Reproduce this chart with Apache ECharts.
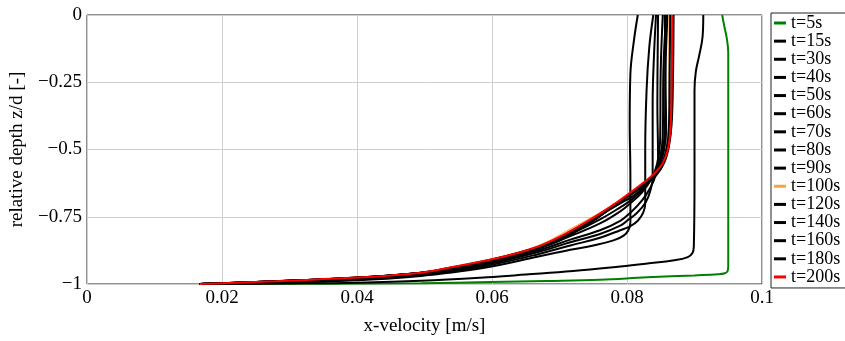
<!DOCTYPE html>
<html>
<head>
<meta charset="utf-8">
<script src="https://cdn.jsdelivr.net/npm/echarts@6/dist/echarts.min.js"></script>
<style>
  html, body { margin: 0; padding: 0; background: #fff; }
  #chart { width: 845px; height: 341px; }
</style>
</head>
<body>
<div id="chart"></div>
<script>
// velocity profiles, [x-velocity m/s, relative depth z/d]
var t5 = [[0.0941, 0], [0.0944, -0.04], [0.0948, -0.09], [0.0950, -0.14], [0.0950, -0.5], [0.0950, -0.935], [0.0949, -0.952], [0.0945, -0.96], [0.0935, -0.964], [0.0900, -0.968], [0.0830, -0.975], [0.0760, -0.984], [0.0680, -0.989], [0.0598, -0.993], [0.0495, -0.997], [0.0350, -0.999], [0.0167, -1]];
var t15 = [[0.0913, 0], [0.0912, -0.08], [0.0907, -0.15], [0.0902, -0.21], [0.0900, -0.28], [0.0900, -0.60], [0.0899, -0.86], [0.0897, -0.885], [0.0890, -0.90], [0.0870, -0.912], [0.0830, -0.924], [0.0790, -0.935], [0.0720, -0.952], [0.0650, -0.965], [0.0593, -0.975], [0.0495, -0.988], [0.0400, -0.995], [0.0300, -0.998], [0.0167, -1]];
var t30 = [[0.0816, 0], [0.0810, -0.10], [0.0805, -0.22], [0.0804, -0.40], [0.0805, -0.60], [0.0805, -0.77], [0.0802, -0.80], [0.0795, -0.82], [0.0780, -0.838], [0.0750, -0.857], [0.0716, -0.873], [0.0667, -0.899], [0.0593, -0.938], [0.0540, -0.957], [0.0495, -0.970], [0.0401, -0.986], [0.0278, -0.995], [0.0167, -1]];
var t40 = [[0.0839, 0], [0.0833, -0.12], [0.0829, -0.28], [0.0827, -0.50], [0.0827, -0.70], [0.0824, -0.735], [0.0816, -0.765], [0.0805, -0.785], [0.0790, -0.80], [0.0760, -0.828], [0.0716, -0.857], [0.0667, -0.89], [0.0593, -0.932], [0.0540, -0.953], [0.0495, -0.967], [0.0401, -0.984], [0.0278, -0.994], [0.0167, -1]];
var t50 = [[0.0843, 0], [0.0840, -0.15], [0.0838, -0.33], [0.0838, -0.60], [0.0835, -0.65], [0.0828, -0.695], [0.0815, -0.735], [0.0800, -0.765], [0.0790, -0.783], [0.0760, -0.814], [0.0716, -0.845], [0.0667, -0.882], [0.0593, -0.927], [0.0540, -0.949], [0.0495, -0.964], [0.0401, -0.982], [0.0278, -0.993], [0.0167, -1]];
var t60 = [[0.0846, 0], [0.0845, -0.33], [0.0846, -0.53], [0.0843, -0.59], [0.0835, -0.64], [0.0822, -0.69], [0.0805, -0.735], [0.0790, -0.765], [0.0760, -0.80], [0.0716, -0.835], [0.0667, -0.876], [0.0593, -0.923], [0.0540, -0.946], [0.0495, -0.962], [0.0401, -0.981], [0.0278, -0.992], [0.0167, -1]];
var t70 = [[0.0853, 0], [0.0850, -0.2], [0.0849, -0.47], [0.0845, -0.55], [0.0836, -0.61], [0.0822, -0.66], [0.0805, -0.70], [0.0790, -0.73], [0.0760, -0.775], [0.0716, -0.822], [0.0667, -0.87], [0.0593, -0.919], [0.0540, -0.944], [0.0495, -0.960], [0.0401, -0.979], [0.0278, -0.991], [0.0167, -1]];
var t80 = [[0.0858, 0], [0.0854, -0.2], [0.0853, -0.45], [0.0849, -0.53], [0.0840, -0.595], [0.0825, -0.645], [0.0805, -0.69], [0.0790, -0.715], [0.0760, -0.76], [0.0716, -0.815], [0.0667, -0.867], [0.0593, -0.917], [0.0540, -0.942], [0.0495, -0.959], [0.0401, -0.978], [0.0278, -0.991], [0.0167, -1]];
var t90 = [[0.0860, 0], [0.0857, -0.2], [0.0856, -0.43], [0.0852, -0.515], [0.0843, -0.58], [0.0828, -0.632], [0.0808, -0.675], [0.0790, -0.70], [0.0760, -0.745], [0.0716, -0.81], [0.0667, -0.865], [0.0593, -0.915], [0.0540, -0.941], [0.0495, -0.959], [0.0401, -0.977], [0.0278, -0.99], [0.0167, -1]];
var t100 = [[0.0862, 0], [0.0862, -0.2], [0.0863, -0.42], [0.0861, -0.49], [0.0855, -0.55], [0.0844, -0.595], [0.0829, -0.627], [0.0810, -0.66], [0.0784, -0.70], [0.0749, -0.75], [0.0716, -0.795], [0.0667, -0.858], [0.0593, -0.91], [0.0540, -0.936], [0.0495, -0.956], [0.0401, -0.975], [0.0278, -0.989], [0.0167, -1]];
var t120 = [[0.0868, 0], [0.0866, -0.25], [0.0865, -0.42], [0.0862, -0.49], [0.0855, -0.55], [0.0843, -0.597], [0.0826, -0.632], [0.0806, -0.668], [0.0780, -0.712], [0.0746, -0.768], [0.0705, -0.825], [0.0667, -0.866], [0.0593, -0.914], [0.0540, -0.94], [0.0495, -0.958], [0.0401, -0.976], [0.0278, -0.99], [0.0167, -1]];
var t140 = [[0.0856, 0], [0.0857, -0.25], [0.0858, -0.43], [0.0855, -0.50], [0.0848, -0.56], [0.0836, -0.605], [0.0820, -0.64], [0.0800, -0.675], [0.0775, -0.72], [0.0746, -0.772], [0.0705, -0.83], [0.0667, -0.868], [0.0593, -0.916], [0.0540, -0.941], [0.0495, -0.959], [0.0401, -0.977], [0.0278, -0.99], [0.0167, -1]];
var t160 = [[0.0864, 0], [0.0863, -0.25], [0.0862, -0.42], [0.0859, -0.49], [0.0852, -0.55], [0.0840, -0.597], [0.0823, -0.633], [0.0803, -0.668], [0.0778, -0.712], [0.0746, -0.765], [0.0705, -0.823], [0.0667, -0.865], [0.0593, -0.914], [0.0540, -0.94], [0.0495, -0.958], [0.0401, -0.976], [0.0278, -0.99], [0.0167, -1]];
var t180 = [[0.0869, 0], [0.0868, -0.25], [0.0866, -0.41], [0.0862, -0.48], [0.0855, -0.545], [0.0844, -0.59], [0.0828, -0.625], [0.0807, -0.663], [0.0781, -0.706], [0.0746, -0.762], [0.0705, -0.82], [0.0667, -0.863], [0.0593, -0.913], [0.0540, -0.939], [0.0495, -0.958], [0.0401, -0.976], [0.0278, -0.99], [0.0167, -1]];
var t200 = [[0.0867, 0], [0.0866, -0.30], [0.0864, -0.44], [0.0860, -0.505], [0.0852, -0.555], [0.0840, -0.590], [0.0825, -0.622], [0.0805, -0.660], [0.0780, -0.705], [0.0746, -0.760], [0.0705, -0.818], [0.0667, -0.862], [0.0630, -0.890], [0.0593, -0.912], [0.0540, -0.938], [0.0495, -0.958], [0.0450, -0.968], [0.0401, -0.976], [0.0340, -0.983], [0.0278, -0.990], [0.0220, -0.9955], [0.0167, -1]];

var names = ['t=5s', 't=15s', 't=30s', 't=40s', 't=50s', 't=60s', 't=70s', 't=80s', 't=90s', 't=100s', 't=120s', 't=140s', 't=160s', 't=180s', 't=200s'];
var profiles = [t5, t15, t30, t40, t50, t60, t70, t80, t90, t100, t120, t140, t160, t180, t200];
var colors = ['#008000', '#000', '#000', '#000', '#000', '#000', '#000', '#000', '#000', '#ffa040', '#000', '#000', '#000', '#000', '#ff0000'];

var font = 'Liberation Serif';

var series = [];
for (var i = 0; i < names.length; i++) {
    series.push({
        name: names[i],
        type: 'line',
        data: profiles[i],
        showSymbol: false,
        smooth: 0.4,
        color: colors[i],
        lineStyle: { width: names[i] == 't=100s' ? 1 : 2, color: colors[i] },
        animation: false
    });
}

var myChart = echarts.init(document.getElementById('chart'));
var option = {
    textStyle: { fontFamily: font },
    grid: {
        left: 85,
        right: 83,
        top: 15,
        bottom: 54,
        show: true,
        borderColor: '#222',
        borderWidth: 1
    },
    legend: {
        data: names,
        orient: 'vertical',
        left: 771,
        top: 13,
        icon: 'rect',
        itemWidth: 12,
        itemHeight: 3,
        itemGap: 0.14,
        padding: [1, 40, 2, 3],
        borderColor: '#222',
        borderWidth: 1,
        textStyle: { fontFamily: font, fontSize: 18, color: '#000' }
    },
    xAxis: {
        type: 'value',
        min: 0,
        max: 0.1,
        interval: 0.02,
        name: 'x-velocity [m/s]',
        nameLocation: 'middle',
        nameGap: 33,
        nameTextStyle: { fontFamily: font, fontSize: 19, color: '#000' },
        axisLine: { show: false },
        axisTick: { show: false },
        axisLabel: {
            color: '#000', fontFamily: font, fontSize: 19, margin: 5,
            formatter: function (v) { return v === 0 ? '0' : String(+v.toFixed(2)); }
        },
        splitLine: { lineStyle: { color: '#cfcfcf', width: 1 } }
    },
    yAxis: {
        type: 'value',
        min: -1,
        max: 0,
        interval: 0.25,
        name: 'relative depth z/d [-]',
        nameLocation: 'middle',
        nameGap: 60,
        nameTextStyle: { fontFamily: font, fontSize: 19, color: '#000' },
        axisLine: { show: false },
        axisTick: { show: false },
        axisLabel: {
            color: '#000', fontFamily: font, fontSize: 19, margin: 5,
            formatter: function (v) { return String(v).replace('-', '\u2212'); }
        },
        splitLine: { lineStyle: { color: '#cfcfcf', width: 1 } }
    },
    series: series
};

myChart.setOption(option);
</script>
</body>
</html>
